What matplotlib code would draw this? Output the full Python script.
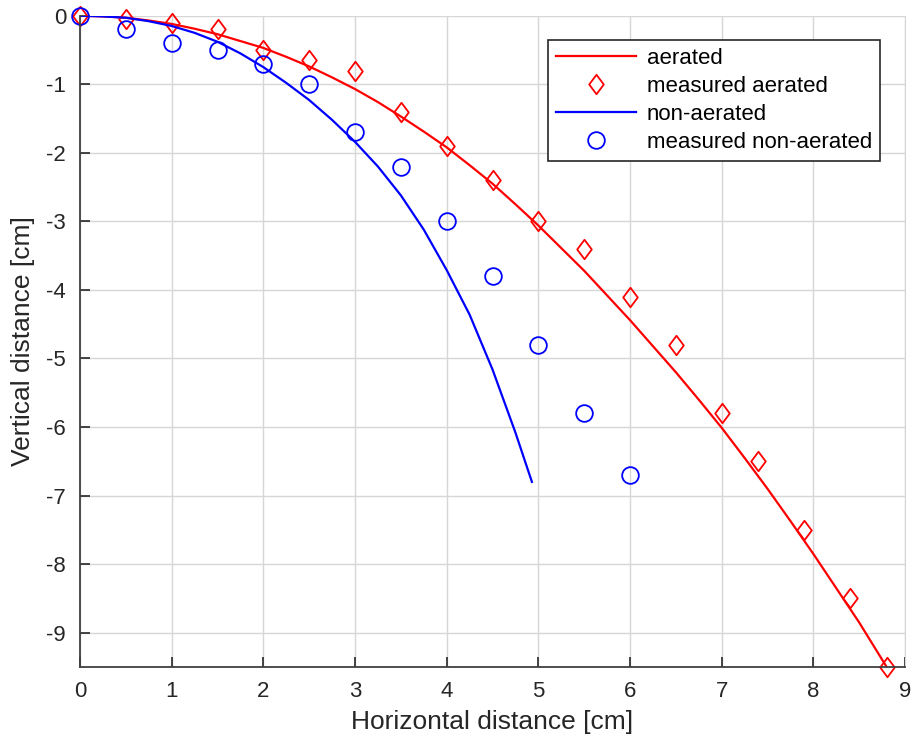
import numpy as np
import matplotlib.pyplot as plt
from matplotlib.path import Path

plt.rcParams['font.family'] = ['Liberation Sans', 'DejaVu Sans']
plt.rcParams['axes.unicode_minus'] = False

# model curves
aer_x = [0, 0.25, 0.5, 0.75, 1, 1.25, 1.5, 1.75, 2, 2.25, 2.5, 2.75, 3, 3.25, 3.5, 3.75,
         4, 4.25, 4.5, 4.75, 5, 5.25, 5.5, 5.75, 6, 6.25, 6.5, 6.75, 7, 7.25, 7.5, 7.75,
         8, 8.25, 8.5, 8.8]
aer_y = [0, -0.01, -0.03, -0.07, -0.12, -0.19, -0.27, -0.37, -0.47, -0.6, -0.74, -0.9,
         -1.07, -1.26, -1.47, -1.69, -1.92, -2.18, -2.45, -2.75, -3.06, -3.39, -3.72,
         -4.08, -4.44, -4.82, -5.2, -5.6, -6.01, -6.45, -6.9, -7.37, -7.85, -8.35,
         -8.85, -9.5]
non_x = [0, 0.25, 0.5, 0.75, 1, 1.25, 1.5, 1.75, 2, 2.25, 2.5, 2.75, 3, 3.25, 3.5,
         3.75, 4, 4.25, 4.5, 4.75, 4.93]
non_y = [0, -0.01, -0.03, -0.08, -0.15, -0.25, -0.38, -0.55, -0.75, -0.98, -1.23,
         -1.52, -1.84, -2.2, -2.62, -3.12, -3.71, -4.36, -5.16, -6.08, -6.8]

# measurements
meas_aer_x = [0, 0.5, 1, 1.5, 2, 2.5, 3, 3.5, 4, 4.5, 5, 5.5, 6, 6.5, 7, 7.4, 7.9, 8.4, 8.8]
meas_aer_y = [0, -0.05, -0.1, -0.2, -0.5, -0.65, -0.8, -1.4, -1.9, -2.4, -3.0,
              -3.4, -4.1, -4.8, -5.8, -6.5, -7.5, -8.5, -9.5]
meas_non_x = [0, 0.5, 1, 1.5, 2, 2.5, 3, 3.5, 4, 4.5, 5, 5.5, 6]
meas_non_y = [0, -0.2, -0.4, -0.5, -0.7, -1.0, -1.7, -2.2, -3.0, -3.8, -4.8, -5.8, -6.7]

# diamond a bit wider than matplotlib's 'd'
diamond = Path([(0, 1), (0.75, 0), (0, -1), (-0.75, 0), (0, 1)],
               [Path.MOVETO, Path.LINETO, Path.LINETO, Path.LINETO, Path.CLOSEPOLY])

fig = plt.figure(figsize=(9.11, 7.44), dpi=100)
ax = fig.add_axes([80 / 911, 1 - 667 / 744, 825 / 911, (667 - 15.7) / 744])

red = '#ff0000'
blue = '#0000ff'
ax.plot(aer_x, aer_y, color=red, lw=1.6, label='aerated')
ax.plot(meas_aer_x, meas_aer_y, ls='none', marker=diamond, color=red, mfc='none',
        ms=14, mew=1.3, label='measured aerated', clip_on=False)
ax.plot(non_x, non_y, color=blue, lw=1.6, label='non-aerated')
ax.plot(meas_non_x, meas_non_y, 'o', color=blue, mfc='none', ms=12, mew=1.3,
        label='measured non-aerated', clip_on=False)

ax.set_xlim(0, 9)
ax.set_ylim(-9.5, 0)
ax.set_xticks(range(0, 10))
ax.set_yticks(range(-9, 1))
ax.grid(True, color='#d6d6d6', lw=1.0)
ax.set_axisbelow(True)
ax.tick_params(direction='in', length=7, width=1.2, labelsize=16,
               colors='#262626', pad=10)
for s in ['left', 'bottom']:
    ax.spines[s].set_color('#404040')
    ax.spines[s].set_linewidth(1.3)
ax.spines['right'].set_color('#d6d6d6')
ax.spines['top'].set_visible(False)

ax.set_xlabel('Horizontal distance [cm]', fontsize=19, color='#262626', labelpad=6)
ax.set_ylabel('Vertical distance [cm]', fontsize=19, color='#262626', labelpad=8)

leg = ax.legend(loc='upper right', bbox_to_anchor=(880 / 911, 1 - 40 / 744),
                bbox_transform=fig.transFigure, borderaxespad=0, fontsize=16,
                fancybox=False, framealpha=1, edgecolor='#262626', handlelength=3.6,
                labelspacing=0.32, borderpad=0.35, handletextpad=0.5)
leg.get_frame().set_linewidth(1.2)

fig.savefig('out.png', dpi=100)
